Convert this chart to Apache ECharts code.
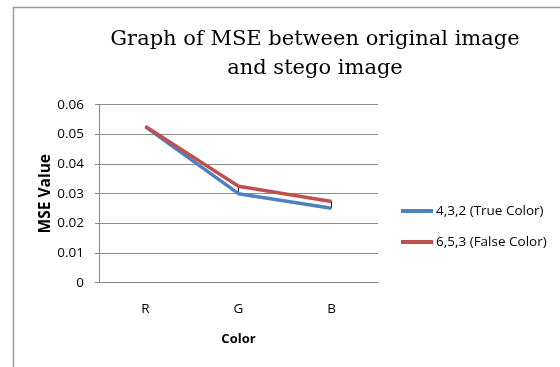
<!DOCTYPE html>
<html>
<head>
<meta charset="utf-8">
<script src="https://cdn.jsdelivr.net/npm/echarts@6/dist/echarts.min.js"></script>
<style>
html,body{margin:0;padding:0;background:#fff;}
#c{width:560px;height:367px;}
</style>
</head>
<body>
<div id="c"></div>
<script>
var titleText = 'Graph of MSE between original image\nand stego image';
var categories = ['R', 'G', 'B'];
var seriesNames = ['4,3,2 (True Color)', '6,5,3 (False Color)'];
var trueColor = [0.0525, 0.0300, 0.0251];
var falseColor = [0.0527, 0.0325, 0.0274];
var yTicks = [0, 0.01, 0.02, 0.03, 0.04, 0.05, 0.06];

var chart = echarts.init(document.getElementById('c'), null, {renderer: 'canvas'});
var labelFont = '"Open Sans", "Liberation Sans", sans-serif';
var option = {
  animation: false,
  backgroundColor: '#ffffff',
  graphic: [{
    type: 'rect',
    shape: {x: 13.5, y: 7.5, width: 600, height: 400},
    style: {fill: 'none', stroke: '#9a9a9a', lineWidth: 1.5},
    silent: true, z: -10
  }],
  title: {
    text: titleText,
    left: 310, top: 20, textAlign: 'center',
    textStyle: {fontFamily: '"DejaVu Serif", serif', fontSize: 21, fontWeight: 'normal', color: '#000', lineHeight: 29}
  },
  legend: {
    orient: 'vertical',
    left: 396, top: 199,
    itemWidth: 32, itemHeight: 4, itemGap: 17,
    icon: 'rect',
    textStyle: {fontFamily: labelFont, fontSize: 13.5, color: '#000', padding: [0,0,0,-2]},
    data: seriesNames
  },
  grid: {left: 99, right: 182, top: 104.7, bottom: 84.3, containLabel: false},
  xAxis: {
    type: 'category',
    data: categories,
    boundaryGap: true,
    name: 'Color',
    nameLocation: 'middle',
    nameGap: 50,
    nameTextStyle: {fontFamily: labelFont, fontSize: 13, fontWeight: 'bold', color: '#000'},
    axisLine: {lineStyle: {color: '#888', width: 1}},
    axisTick: {show: false},
    axisLabel: {fontFamily: labelFont, fontSize: 13.5, color: '#000', margin: 19}
  },
  yAxis: {
    type: 'value',
    min: yTicks[0], max: yTicks[yTicks.length - 1], interval: 0.01,
    name: 'MSE Value',
    nameLocation: 'middle',
    nameGap: 45,
    nameRotate: 90,
    nameTextStyle: {fontFamily: labelFont, fontSize: 15.5, fontWeight: 'bold', color: '#000'},
    axisLine: {show: true, lineStyle: {color: '#888', width: 1}},
    axisTick: {show: true, length: 4, lineStyle: {color: '#888'}},
    splitLine: {show: true, lineStyle: {color: '#8c8c8c', width: 1}},
    axisLabel: {fontFamily: labelFont, fontSize: 13.5, color: '#000', margin: 15,
      formatter: function (v) { return String(Math.round(v * 100) / 100); }}
  },
  series: [
    {
      name: seriesNames[0], type: 'line', data: trueColor,
      symbol: 'none', lineStyle: {color: '#4F81BD', width: 3.5, join: 'round'},
      itemStyle: {color: '#4F81BD'}, z: 3
    },
    {
      name: seriesNames[1], type: 'line', data: falseColor,
      symbol: 'none', lineStyle: {color: '#C0504D', width: 3.5, join: 'round'},
      itemStyle: {color: '#C0504D'}, z: 4
    },
    {
      name: 'hilo', type: 'custom', z: 2,
      data: categories.map(function (c, i) { return [i, trueColor[i], falseColor[i]]; }),
      renderItem: function (params, api) {
        var p1 = api.coord([api.value(0), api.value(1)]);
        var p2 = api.coord([api.value(0), api.value(2)]);
        return {type: 'line', shape: {x1: p1[0], y1: p1[1], x2: p2[0], y2: p2[1]},
          style: {stroke: '#000', lineWidth: 1}};
      },
      silent: true
    }
  ]
};
chart.setOption(option);
</script>
</body>
</html>
